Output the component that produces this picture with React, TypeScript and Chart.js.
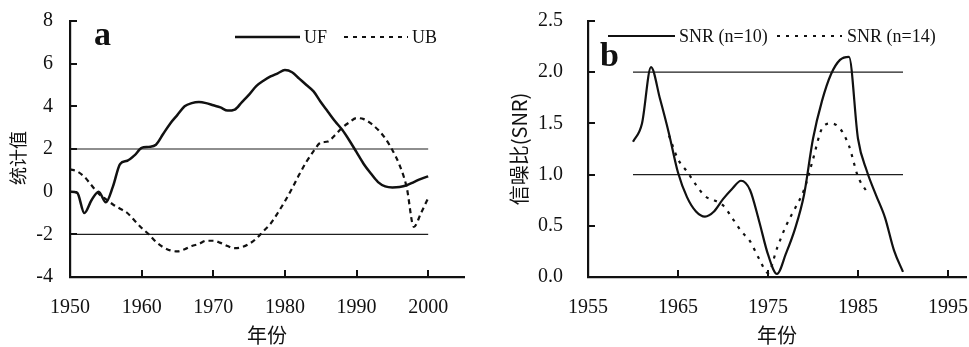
import React, { useEffect, useRef } from "react";
import { Chart, registerables } from "chart.js";

Chart.register(...registerables);

const INK = "#111111";
const SERIF = '"Liberation Serif", "Times New Roman", serif';
const CJK = '"Noto Sans CJK SC", sans-serif';

// ---------- Panel a: Mann-Kendall statistics ----------
const YEARS_A = [
  1950, 1951, 1952, 1953, 1954, 1955, 1956, 1957, 1958, 1959,
  1960, 1961, 1962, 1963, 1964, 1965, 1966, 1967, 1968, 1969,
  1970, 1971, 1972, 1973, 1974, 1975, 1976, 1977, 1978, 1979,
  1980, 1981, 1982, 1983, 1984, 1985, 1986, 1987, 1988, 1989,
  1990, 1991, 1992, 1993, 1994, 1995, 1996, 1997, 1998, 1999, 2000,
];
const UF = [
  0.0, -0.05, -1.0, -0.4, 0.0, -0.5, 0.25, 1.3, 1.45, 1.7,
  2.05, 2.1, 2.2, 2.7, 3.2, 3.6, 4.0, 4.15, 4.2, 4.15,
  4.05, 3.95, 3.8, 3.85, 4.2, 4.55, 4.95, 5.2, 5.4, 5.55,
  5.7, 5.6, 5.3, 5.0, 4.7, 4.2, 3.75, 3.3, 2.9, 2.4,
  1.85, 1.3, 0.85, 0.45, 0.25, 0.2, 0.22, 0.3, 0.45, 0.6, 0.72,
];
const UB = [
  1.05, 0.95, 0.7, 0.3, -0.1, -0.35, -0.6, -0.8, -1.0, -1.35,
  -1.7, -2.0, -2.35, -2.6, -2.75, -2.8, -2.7, -2.55, -2.45, -2.3,
  -2.3, -2.4, -2.55, -2.65, -2.6, -2.45, -2.2, -1.85, -1.5, -1.0,
  -0.45, 0.15, 0.8, 1.4, 1.9, 2.3, 2.35, 2.65, 3.0, 3.25,
  3.45, 3.4, 3.2, 2.9, 2.5, 1.95, 1.25, 0.2, -1.65, -1.0, -0.3,
];
const THRESH_A = [2, -2];
const THRESH_A_SPAN = [1950, 2000];
const X_TICKS_A = [1950, 1960, 1970, 1980, 1990, 2000];
const Y_TICKS_A = [-4, -2, 0, 2, 4, 6, 8];

// ---------- Panel b: signal-to-noise ratio ----------
const YEARS_N10 = [
  1960, 1961, 1962, 1963, 1964, 1965, 1966, 1967, 1968, 1969,
  1970, 1971, 1972, 1973, 1974, 1975, 1976, 1977, 1978, 1979,
  1980, 1981, 1982, 1983, 1984, 1985, 1986, 1987, 1988, 1989, 1990,
];
const SNR_N10 = [
  1.32, 1.5, 2.05, 1.74, 1.4, 1.02, 0.78, 0.64, 0.59, 0.64,
  0.76, 0.86, 0.94, 0.85, 0.55, 0.22, 0.03, 0.23, 0.47, 0.8,
  1.35, 1.72, 1.98, 2.12, 2.15, 1.35, 1.03, 0.8, 0.58, 0.26, 0.05,
];
const YEARS_N14 = [
  1964, 1965, 1966, 1967, 1968, 1969, 1970, 1971, 1972, 1973,
  1974, 1975, 1976, 1977, 1978, 1979, 1980, 1981, 1982, 1983,
  1984, 1985, 1986,
];
const SNR_N14 = [
  1.38, 1.15, 1.03, 0.9, 0.79, 0.75, 0.7, 0.58, 0.45, 0.35,
  0.18, 0.04, 0.28, 0.5, 0.67, 0.85, 1.15, 1.45, 1.5, 1.45,
  1.28, 0.98, 0.83,
];
const THRESH_B = [2.0, 1.0];
const THRESH_B_SPAN = [1960, 1990];
const X_TICKS_B = [1955, 1965, 1975, 1985, 1995];
const Y_TICKS_B = [0, 0.5, 1, 1.5, 2, 2.5];

const pts = (xs: number[], ys: number[]) => xs.map((x, i) => ({ x, y: ys[i] }));

const insideTicks = {
  id: "insideTicks",
  afterDraw(chart: any) {
    const { ctx, chartArea } = chart;
    const xs = chart.scales.x;
    const ys = chart.scales.y;
    ctx.save();
    ctx.strokeStyle = INK;
    ctx.lineWidth = 2;
    ctx.setLineDash([]);
    for (const t of ys.ticks) {
      const y = Math.round(ys.getPixelForValue(t.value));
      ctx.beginPath();
      ctx.moveTo(chartArea.left, y);
      ctx.lineTo(chartArea.left + 7, y);
      ctx.stroke();
    }
    for (const t of xs.ticks) {
      const x = Math.round(xs.getPixelForValue(t.value));
      ctx.beginPath();
      ctx.moveTo(x, chartArea.bottom);
      ctx.lineTo(x, chartArea.bottom - 7);
      ctx.stroke();
    }
    ctx.restore();
  },
};

type Item = { x1: number; x2: number; y: number; dash: number[]; width: number; text: string; tx: number; font: string };
const makeDecor = (panel: { text: string; x: number; y: number; font: string }, items: Item[]) => ({
  id: "decor",
  afterDraw(chart: any) {
    const ctx = chart.ctx;
    ctx.save();
    ctx.fillStyle = INK;
    ctx.strokeStyle = INK;
    ctx.font = panel.font;
    ctx.textBaseline = "alphabetic";
    ctx.textAlign = "left";
    ctx.fillText(panel.text, panel.x, panel.y);
    for (const it of items) {
      ctx.lineWidth = it.width;
      ctx.setLineDash(it.dash);
      ctx.beginPath();
      ctx.moveTo(it.x1, it.y);
      ctx.lineTo(it.x2, it.y);
      ctx.stroke();
      ctx.setLineDash([]);
      ctx.font = it.font;
      ctx.textBaseline = "middle";
      ctx.fillText(it.text, it.tx, it.y + 1);
    }
    ctx.restore();
  },
});

const refLine = (v: number, span: number[]) => ({
  label: "ref",
  data: span.map((x) => ({ x, y: v })),
  borderColor: "#1e1e1e",
  borderWidth: 1.2,
  pointRadius: 0,
  fill: false,
});

const axisCommon = (ticks: number[], fmt: (v: number) => string, padding: number) => ({
  type: "linear" as const,
  afterBuildTicks: (s: any) => {
    s.ticks = ticks.map((value) => ({ value }));
  },
  grid: { display: false, drawTicks: false },
  border: { display: true, color: INK, width: 2.2 },
  ticks: {
    autoSkip: false,
    maxRotation: 0,
    padding,
    color: INK,
    font: { family: SERIF, size: 20 },
    callback: (v: any) => fmt(Number(v)),
  },
});

const DASH_UB = [5, 4];
const DASH_UB_LEGEND = [4, 5];
const DOT_N14 = [3, 6];

function configA(): any {
  return {
    type: "line",
    data: {
      datasets: [
        { label: "UF", data: pts(YEARS_A, UF), borderColor: INK, borderWidth: 2.5, pointRadius: 0, cubicInterpolationMode: "monotone", fill: false },
        { label: "UB", data: pts(YEARS_A, UB), borderColor: INK, borderWidth: 2.2, borderDash: DASH_UB, pointRadius: 0, cubicInterpolationMode: "monotone", fill: false },
        ...THRESH_A.map((v) => refLine(v, THRESH_A_SPAN)),
      ],
    },
    options: {
      responsive: false,
      animation: false,
      events: [],
      layout: { padding: { left: 0, right: 16, top: 21, bottom: 0 } },
      plugins: { legend: { display: false }, tooltip: { enabled: false } },
      scales: {
        x: {
          ...axisCommon(X_TICKS_A, (v) => String(v), 19),
          min: 1950,
          max: 2005,
          afterFit: (s: any) => { s.height = 70; s.paddingLeft = 0; s.paddingRight = 0; },
          title: { display: true, text: "年份", color: INK, font: { family: CJK, size: 20 }, padding: { top: 0, bottom: 0 } },
        },
        y: {
          ...axisCommon(Y_TICKS_A, (v) => String(v), 17),
          min: -4,
          max: 8,
          afterFit: (s: any) => { s.width = 70; s.paddingTop = 0; s.paddingBottom = 0; },
          title: { display: true, text: "统计值\u3000", color: INK, font: { family: CJK, size: 18 }, padding: { top: 7, bottom: 0 } },
        },
      },
    },
    plugins: [
      insideTicks,
      makeDecor({ text: "a", x: 94, y: 45, font: `bold 34px ${SERIF}` }, [
        { x1: 235, x2: 300, y: 37, dash: [], width: 2.5, text: "UF", tx: 304, font: `18px ${SERIF}` },
        { x1: 344, x2: 408, y: 37, dash: DASH_UB_LEGEND, width: 2, text: "UB", tx: 412, font: `18px ${SERIF}` },
      ]),
    ],
  };
}

function configB(): any {
  return {
    type: "line",
    data: {
      datasets: [
        { label: "SNR(n=10)", data: pts(YEARS_N10, SNR_N10), borderColor: INK, borderWidth: 2.2, pointRadius: 0, cubicInterpolationMode: "monotone", fill: false },
        { label: "SNR(n=14)", data: pts(YEARS_N14, SNR_N14), borderColor: INK, borderWidth: 2.2, borderDash: DOT_N14, pointRadius: 0, cubicInterpolationMode: "monotone", fill: false },
        ...THRESH_B.map((v) => refLine(v, THRESH_B_SPAN)),
      ],
    },
    options: {
      responsive: false,
      animation: false,
      events: [],
      layout: { padding: { left: 0, right: 3, top: 21, bottom: 0 } },
      plugins: { legend: { display: false }, tooltip: { enabled: false } },
      scales: {
        x: {
          ...axisCommon(X_TICKS_B, (v) => String(v), 19),
          min: 1955,
          max: 1997,
          afterFit: (s: any) => { s.height = 70; s.paddingLeft = 0; s.paddingRight = 0; },
          title: { display: true, text: "年份", color: INK, font: { family: CJK, size: 20 }, padding: { top: 0, bottom: 0 } },
        },
        y: {
          ...axisCommon(Y_TICKS_B, (v) => v.toFixed(1), 25),
          min: 0,
          max: 2.5,
          afterFit: (s: any) => { s.width = 108; s.paddingTop = 0; s.paddingBottom = 0; },
          title: { display: true, text: "信噪比(SNR)", color: INK, font: { family: CJK, size: 20 }, padding: { top: 27, bottom: 0 } },
        },
      },
    },
    plugins: [
      insideTicks,
      makeDecor({ text: "b", x: 120, y: 66, font: `bold 34px ${SERIF}` }, [
        { x1: 128, x2: 195, y: 36, dash: [], width: 2.2, text: "SNR (n=10)", tx: 199, font: `18px ${SERIF}` },
        { x1: 297, x2: 362, y: 36, dash: DOT_N14, width: 2, text: "SNR (n=14)", tx: 367, font: `18px ${SERIF}` },
      ]),
    ],
  };
}

function Panel({ make, left, width }: { make: () => any; left: number; width: number }) {
  const ref = useRef<HTMLCanvasElement>(null);
  useEffect(() => {
    const chart = new Chart(ref.current as HTMLCanvasElement, make());
    return () => chart.destroy();
  }, []);
  return (
    <canvas
      ref={ref}
      width={width}
      height={347}
      style={{ position: "absolute", left, top: 0, width, height: 347 }}
    />
  );
}

export default function App() {
  return (
    <div style={{ position: "absolute", left: 0, top: 0, width: 969, height: 347, background: "#fff", overflow: "hidden" }}>
      <Panel make={configA} left={0} width={480} />
      <Panel make={configB} left={480} width={489} />
    </div>
  );
}
